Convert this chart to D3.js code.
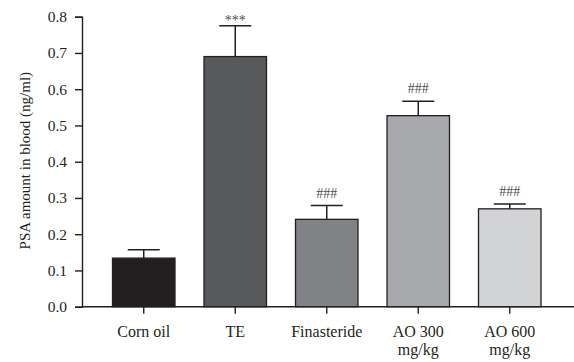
<!DOCTYPE html>
<html>
<head>
<meta charset="utf-8">
<script src="https://cdn.jsdelivr.net/npm/d3@7"></script>
<style>
  html, body { margin: 0; padding: 0; background: #fff; }
  svg { display: block; font-family: "Liberation Serif", "Times New Roman", serif; }
</style>
</head>
<body>
<svg id="chart" width="574" height="362"></svg>
<script>
// Group names (second line shown under the first)
const groups = ["Corn oil", "TE", "Finasteride", "AO 300\nmg/kg", "AO 600\nmg/kg"];
// Mean PSA in blood (ng/ml)
const means = [0.134, 0.690, 0.241, 0.527, 0.270];
// Standard error added above each mean
const errors = [0.023, 0.085, 0.038, 0.040, 0.013];
// Significance marks over each bar
const marks = ["", "***", "###", "###", "###"];
const fills = ["#231f20", "#58595b", "#808285", "#a7a9ac", "#d1d3d4"];
const yTicks = [0, 0.1, 0.2, 0.3, 0.4, 0.5, 0.6, 0.7, 0.8];

const svg = d3.select("#chart");
const m = { left: 82, top: 16.7, bottom: 55.3 };
const W = 574, H = 362;
const ink = "#231f20";

const y = d3.scaleLinear().domain([0, 0.8]).range([H - m.bottom, m.top]);
const x = d3.scaleBand().domain(groups).range([112.5, 541]).paddingInner(0.317).paddingOuter(0);

// Y axis
const yAxis = svg.append("g").attr("transform", `translate(${m.left},0)`)
  .call(d3.axisLeft(y).tickValues(yTicks).tickFormat(d3.format(".1f")).tickSizeOuter(0).tickSize(7).tickPadding(8));
yAxis.select(".domain").attr("stroke", ink).attr("stroke-width", 1.4);
yAxis.selectAll(".tick line").attr("stroke", ink).attr("stroke-width", 1.4);
yAxis.selectAll(".tick text").attr("font-size", 15.5).attr("fill", ink)
  .attr("font-family", "Liberation Serif, serif");

// X axis
const xAxis = svg.append("g").attr("transform", `translate(0,${y(0)})`)
  .call(d3.axisBottom(x).tickSize(7).tickSizeOuter(0).tickFormat(""));
xAxis.select(".domain").attr("d", `M${m.left},0H${W}`).attr("stroke", ink).attr("stroke-width", 1.4);
xAxis.selectAll(".tick line").attr("stroke", ink).attr("stroke-width", 1.4);

// Category labels, possibly on two lines
xAxis.selectAll(".tick").each(function(d) {
  const t = d3.select(this).append("text")
    .attr("text-anchor", "middle")
    .attr("font-size", 16)
    .attr("fill", ink)
    .attr("font-family", "Liberation Serif, serif");
  d.split("\n").forEach((line, i) => {
    t.append("tspan").attr("x", 0).attr("y", 30 + i * 18).text(line);
  });
});

// Bars
svg.append("g").selectAll("rect").data(groups).join("rect")
  .attr("x", d => x(d))
  .attr("y", (d, i) => y(means[i]))
  .attr("width", x.bandwidth())
  .attr("height", (d, i) => y(0) - y(means[i]))
  .attr("fill", (d, i) => fills[i])
  .attr("stroke", ink)
  .attr("stroke-width", 1.3);

// Error bars (upper half only)
const capW = 32;
const eb = svg.append("g").attr("stroke", ink).attr("stroke-width", 1.5);
groups.forEach((g, i) => {
  const cx = x(g) + x.bandwidth() / 2;
  eb.append("line").attr("x1", cx).attr("x2", cx)
    .attr("y1", y(means[i])).attr("y2", y(means[i] + errors[i]));
  eb.append("line").attr("x1", cx - capW / 2).attr("x2", cx + capW / 2)
    .attr("y1", y(means[i] + errors[i])).attr("y2", y(means[i] + errors[i]));
});

// Significance marks
svg.append("g").selectAll("text").data(groups).join("text")
  .attr("x", d => x(d) + x.bandwidth() / 2)
  .attr("y", (d, i) => y(means[i] + errors[i]) - (marks[i] === "***" ? 1 : 8))
  .attr("text-anchor", "middle")
  .attr("font-size", 14)
  .attr("fill", "#4d4d4f")
  .attr("font-family", "Liberation Serif, serif")
  .text((d, i) => marks[i]);

// Y axis title
svg.append("text")
  .attr("transform", `translate(25,${(y(0) + y(0.8)) / 2 - 1}) rotate(-90)`)
  .attr("text-anchor", "middle")
  .attr("dominant-baseline", "central")
  .attr("font-size", 15)
  .attr("fill", ink)
  .attr("font-family", "Liberation Serif, serif")
  .text("PSA amount in blood (ng/ml)");
</script>
</body>
</html>
